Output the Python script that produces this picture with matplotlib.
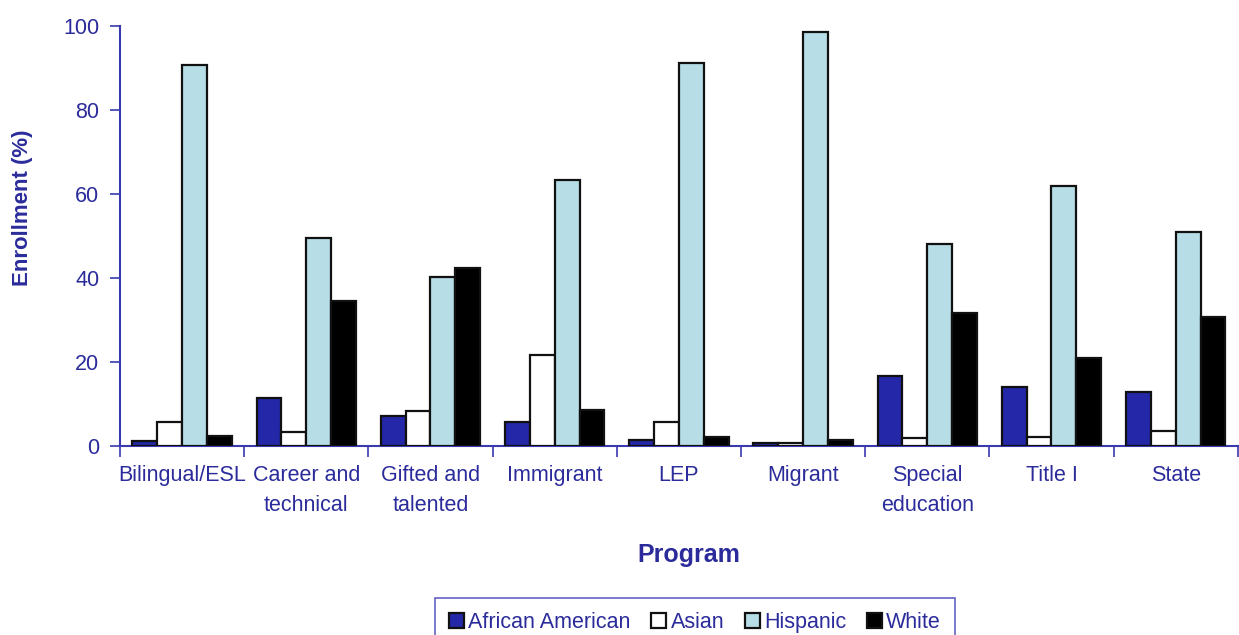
import numpy
from matplotlib import pyplot

# enrollment by program (%)
programs = ['Bilingual/ESL', 'Career and\ntechnical', 'Gifted and\ntalented',
            'Immigrant', 'LEP', 'Migrant', 'Special\neducation', 'Title I',
            'State']
african_american = [1.3, 11.4, 7.1, 5.7, 1.4, 0.6, 16.7, 14.0, 12.9]
asian = [5.6, 3.3, 8.3, 21.7, 5.7, 0.6, 1.9, 2.1, 3.6]
hispanic = [90.8, 49.5, 40.2, 63.3, 91.2, 98.6, 48.1, 61.9, 51.0]
white = [2.5, 34.6, 42.5, 8.6, 2.1, 1.4, 31.7, 21.0, 30.7]

series = [('African American', african_american, '#2427A8'),
          ('Asian', asian, '#FFFFFF'),
          ('Hispanic', hispanic, '#B7DDE6'),
          ('White', white, '#000000')]

text_color = '#2B2B9B'
axis_color = '#3A3AB0'

pyplot.rcParams['font.family'] = ['Liberation Sans', 'DejaVu Sans']

fig = pyplot.figure(figsize=(12.39, 6.35), dpi=100)
ax = fig.add_axes([120/1239, 1 - 446/635, 1 - 120/1239 - 0.001, 420/635])

x = numpy.arange(len(programs))
width = 0.2
for i, (label, values, color) in enumerate(series):
  ax.bar(x - 0.3 + i*width, values, width, color=color, edgecolor='#111111',
         linewidth=1.6, label=label, zorder=3)

ax.set_xlim(-0.5, len(programs) - 0.5)
ax.set_ylim(0, 100)
ax.set_yticks([0, 20, 40, 60, 80, 100])
ax.set_xticks(numpy.arange(len(programs) + 1) - 0.5)
ax.set_xticklabels([])
ax.set_xticks(x, minor=True)
ax.set_xticklabels(programs, minor=True, fontsize=15.5, color=text_color,
                   va='top', linespacing=1.55)
ax.tick_params(axis='x', which='minor', length=0, pad=14)
ax.tick_params(axis='x', which='major', length=8, width=1.2, color=axis_color)
ax.tick_params(axis='y', length=7, width=1.2, color=axis_color,
               labelsize=15.5, labelcolor=text_color, pad=8)
for side in ['top', 'right']:
  ax.spines[side].set_visible(False)
for side in ['left', 'bottom']:
  ax.spines[side].set_color(axis_color)
  ax.spines[side].set_linewidth(1.5)

ax.set_ylabel('Enrollment (%)', fontsize=16, fontweight='bold',
              color=text_color, va='center')
ax.yaxis.set_label_coords(-0.0876, 0.567)
ax.set_xlabel('Program', fontsize=18, fontweight='bold', color=text_color,
              va='center')
ax.xaxis.set_label_coords(0.509, -0.26)

legend = fig.legend(loc='upper center', bbox_to_anchor=(695/1239, 1 - 598/635),
                    ncol=4, frameon=True, fancybox=False, fontsize=15.5,
                    handlelength=0.7, handleheight=0.7, handletextpad=0.2,
                    columnspacing=0.95, borderpad=0.65, borderaxespad=0,
                    labelcolor=text_color)
legend.get_frame().set_edgecolor(axis_color)
legend.get_frame().set_linewidth(1.2)

pyplot.savefig('out.png', dpi=100)
